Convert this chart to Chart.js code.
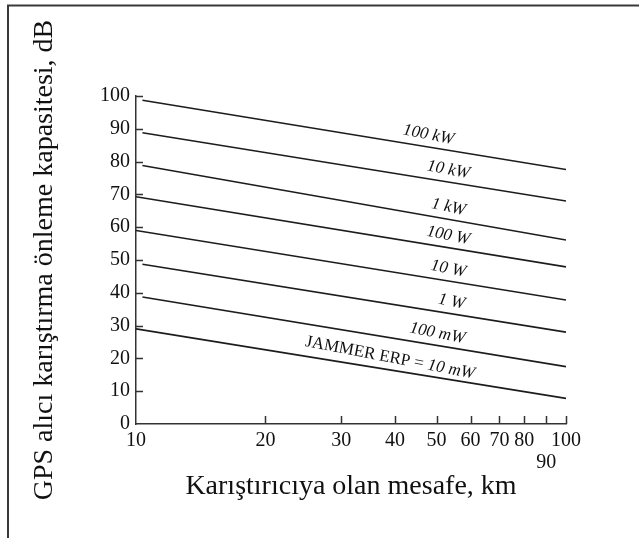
<!DOCTYPE html>
<html>
<head>
<meta charset="utf-8">
<script src="https://cdn.jsdelivr.net/npm/chart.js@4"></script>
<style>
  body { margin: 0; background: #fff; }
  canvas { display: block; }
</style>
</head>
<body>
<canvas id="jamChart" width="639" height="538"></canvas>
<script>
// jammer power curves
const powerLabels = ['100 kW', '10 kW', '1 kW', '100 W', '10 W', '1 W', '100 mW', 'JAMMER ERP = 10 mW']
const startKm = [10.35, 10.35, 10.35, 10, 10, 10.35, 10.35, 10]
const startDb = [98.7, 88.8, 78.8, 69.3, 59.0, 48.7, 38.7, 29.0]
const endKm = [100, 100, 100, 100, 100, 100, 100, 100]
const endDb = [77.6, 68.0, 56.1, 47.9, 37.8, 28.0, 17.5, 7.8]
const labelKm = [47.3, 52.6, 52.6, 52.6, 52.6, 53.5, 49.6, 38.5]

const xTicks = [10, 20, 30, 40, 50, 60, 70, 80, 90, 100]
const yTicks = [0, 10, 20, 30, 40, 50, 60, 70, 80, 90, 100]

const serif = "'Liberation Serif', 'Times New Roman', serif"
const ink = '#111'

const datasets = []
for (let i = 0; i < powerLabels.length; i++) {
    datasets.push({
        label: powerLabels[i],
        data: [{x: startKm[i], y: startDb[i]}, {x: endKm[i], y: endDb[i]}],
        borderColor: '#1c1c1c',
        borderWidth: 1.6,
        pointRadius: 0,
        fill: false
    })
}

// frame lines around the figure (top + left, as in the scan)
const framePlugin = {
    id: 'frame',
    beforeDraw(chart) {
        const ctx = chart.ctx
        ctx.save()
        ctx.strokeStyle = '#3a3a3a'
        ctx.lineWidth = 2
        ctx.beginPath()
        ctx.moveTo(7, 5.5)
        ctx.lineTo(639, 5.5)
        ctx.moveTo(8, 5)
        ctx.lineTo(8, 538)
        ctx.stroke()
        ctx.restore()
    }
}

// tick marks pointing into the plot
const innerTicks = {
    id: 'innerTicks',
    afterDraw(chart) {
        const ctx = chart.ctx
        const area = chart.chartArea
        const xs = chart.scales.x
        const ys = chart.scales.y
        ctx.save()
        ctx.strokeStyle = '#333'
        ctx.lineWidth = 1.5
        ctx.beginPath()
        for (let v of yTicks) {
            if (v === 0) continue
            const py = Math.round(ys.getPixelForValue(v)) + 0.5
            ctx.moveTo(area.left, py)
            ctx.lineTo(area.left + 7, py)
        }
        for (let v of xTicks) {
            if (v === 10) continue
            const px = Math.round(xs.getPixelForValue(v)) + 0.5
            ctx.moveTo(px, area.bottom)
            ctx.lineTo(px, area.bottom - 8)
        }
        ctx.stroke()
        ctx.restore()
    }
}

// the power labels written along each line
const lineLabels = {
    id: 'lineLabels',
    afterDatasetsDraw(chart) {
        const ctx = chart.ctx
        const xs = chart.scales.x
        const ys = chart.scales.y
        ctx.save()
        ctx.fillStyle = ink
        ctx.textBaseline = 'middle'
        for (let i = 0; i < powerLabels.length; i++) {
            const x1 = xs.getPixelForValue(startKm[i]), y1 = ys.getPixelForValue(startDb[i])
            const x2 = xs.getPixelForValue(endKm[i]), y2 = ys.getPixelForValue(endDb[i])
            const angle = Math.atan2(y2 - y1, x2 - x1) + 0.03
            const lx = xs.getPixelForValue(labelKm[i])
            const ly = y1 + (y2 - y1) * (lx - x1) / (x2 - x1)
            ctx.save()
            ctx.translate(lx, ly)
            ctx.rotate(angle)
            ctx.translate(0, -12)
            const text = powerLabels[i]
            if (text.indexOf('=') >= 0) {
                const head = text.slice(0, text.indexOf('=') + 2)
                const tail = text.slice(text.indexOf('=') + 2)
                ctx.font = '17px ' + serif
                const w1 = ctx.measureText(head).width
                ctx.font = 'italic 17px ' + serif
                const w2 = ctx.measureText(tail).width
                let start = -(w1 + w2) / 2
                ctx.textAlign = 'left'
                ctx.font = '17px ' + serif
                ctx.fillText(head, start, 0)
                ctx.font = 'italic 17px ' + serif
                ctx.fillText(tail, start + w1, 0)
            } else {
                ctx.font = 'italic 17px ' + serif
                ctx.textAlign = 'center'
                ctx.fillText(text, 0, 0)
            }
            ctx.restore()
        }
        ctx.restore()
    }
}

const chart = new Chart(document.getElementById('jamChart').getContext('2d'), {
    type: 'line',
    data: { datasets: datasets },
    options: {
        responsive: false,
        animation: false,
        layout: { padding: { left: 0, top: 96, right: 73, bottom: 0 } },
        plugins: {
            legend: { display: false },
            tooltip: { enabled: false }
        },
        scales: {
            x: {
                type: 'logarithmic',
                min: 10,
                max: 100,
                afterBuildTicks: (scale) => {
                    scale.ticks = xTicks.map(v => ({ value: v }))
                },
                afterFit: (scale) => { scale.height = 114 },
                grid: { drawOnChartArea: false, drawTicks: false },
                border: { display: true, color: '#333', width: 1.5 },
                ticks: {
                    autoSkip: false,
                    maxRotation: 0,
                    padding: 6,
                    color: ink,
                    font: { family: serif, size: 20, lineHeight: 1.1 },
                    callback: (v) => v === 90 ? ['', '90'] : String(v)
                },
                title: {
                    display: true,
                    text: 'Karıştırıcıya olan mesafe, km',
                    color: ink,
                    font: { family: serif, size: 28 },
                    padding: { top: 0, bottom: 35 }
                }
            },
            y: {
                min: 0,
                max: 100,
                afterBuildTicks: (scale) => {
                    scale.ticks = yTicks.map(v => ({ value: v }))
                },
                afterFit: (scale) => { scale.width = 136 },
                grid: { drawOnChartArea: false, drawTicks: false },
                border: { display: true, color: '#333', width: 1.5 },
                ticks: {
                    padding: 6,
                    color: ink,
                    font: { family: serif, size: 20 }
                },
                title: {
                    display: true,
                    text: 'GPS alıcı karıştırma önleme kapasitesi, dB',
                    color: ink,
                    font: { family: serif, size: 28 },
                    padding: { top: 28, bottom: 0 }
                }
            }
        }
    },
    plugins: [framePlugin, innerTicks, lineLabels]
})
</script>
</body>
</html>
